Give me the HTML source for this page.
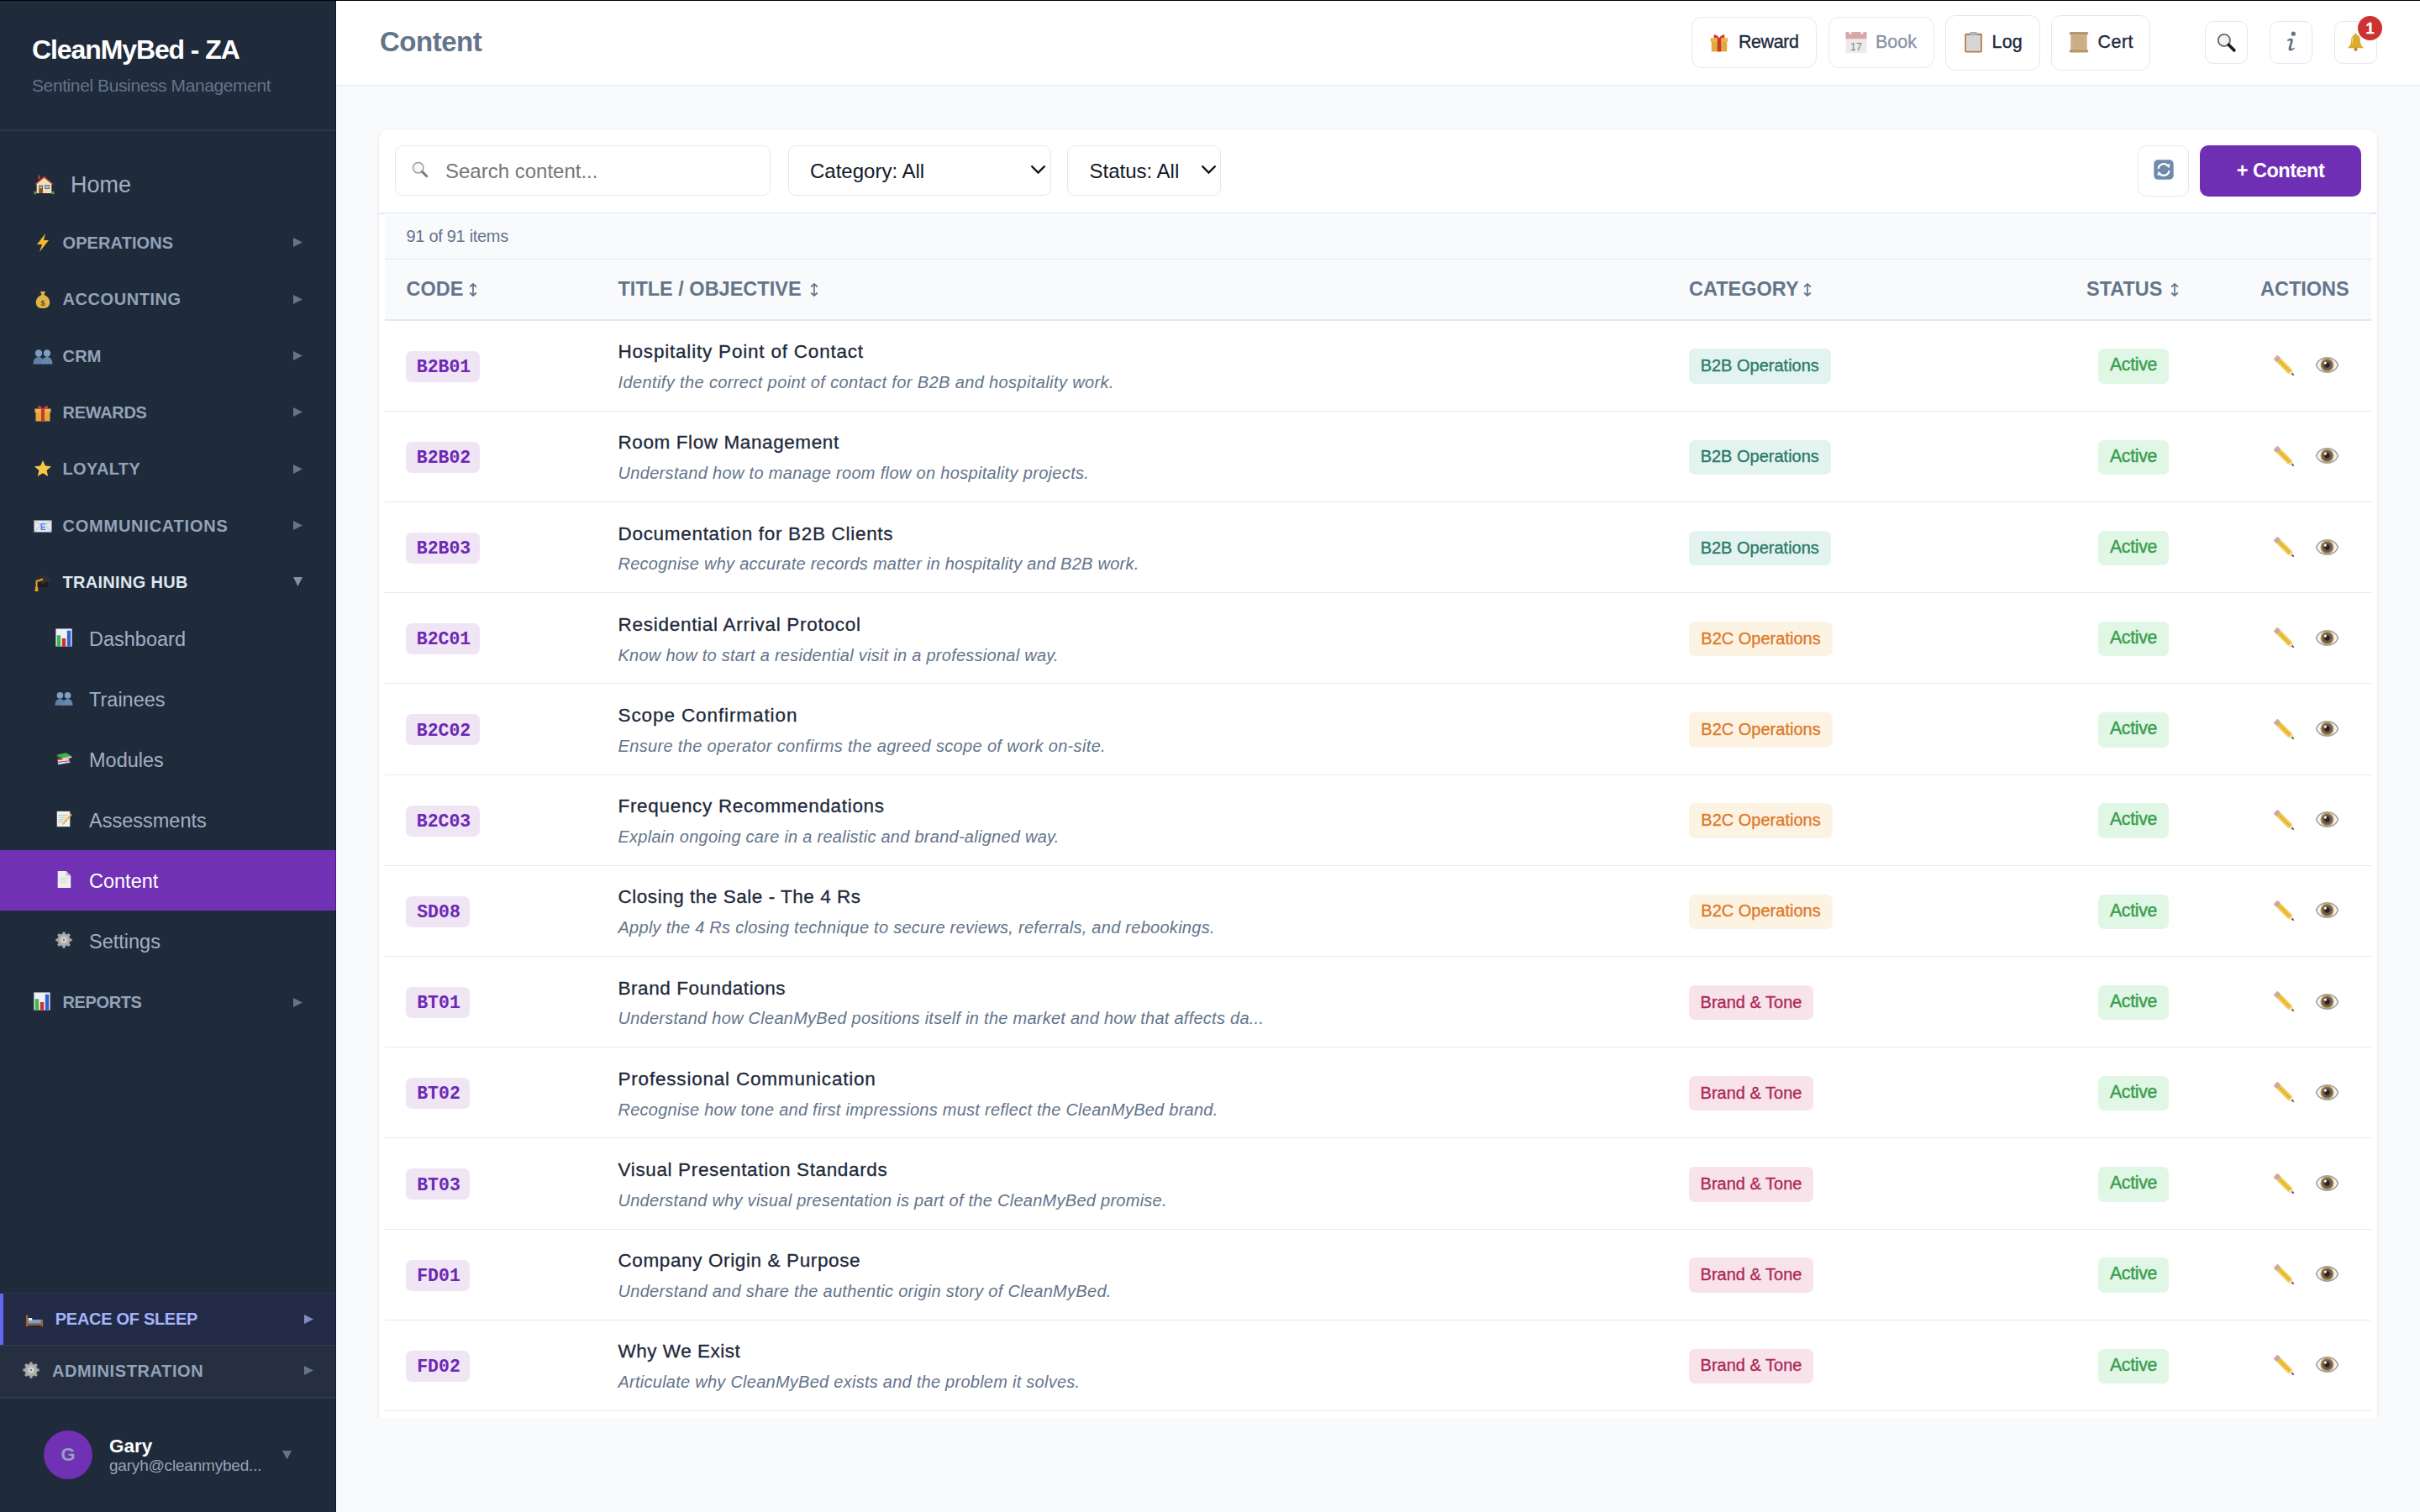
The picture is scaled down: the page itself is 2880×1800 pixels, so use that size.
<!DOCTYPE html>
<html><head><meta charset="utf-8"><title>Content</title>
<style>
html,body{margin:0;padding:0;width:2880px;height:1800px;overflow:hidden;background:#f8fafc}
@media (max-width:2000px){html{zoom:0.5}}
.b{position:absolute;display:block}
.t{position:absolute;white-space:nowrap;font-family:'Liberation Sans', sans-serif}
#root{position:relative;width:2880px;height:1800px;overflow:hidden}
</style></head><body><div id="root">
<div class="b" style="left:0px;top:0px;width:400px;height:1800px;background:#1f2a3b"></div>
<div class="t" style="left:38px;top:27.2px;height:64px;line-height:64px;font-size:32px;color:#ffffff;font-weight:700;letter-spacing:-1.1px;">CleanMyBed - ZA</div>
<div class="t" style="left:38px;top:81.0px;height:42px;line-height:42px;font-size:21px;color:#64748b;font-weight:400;letter-spacing:-0.4px;">Sentinel Business Management</div>
<div class="b" style="left:0px;top:154px;width:400px;height:1.5px;background:#2c3749"></div>
<svg class="b" style="left:39.5px;top:207px" width="25" height="25" viewBox="0 0 24 24"><path d="M1.5 11.5 L12 2.5 L22.5 11.5 L21 12.5 L12 5 L3 12.5 Z" fill="#c0392b"/><path d="M3.5 11.5 L12 4.5 L20.5 11.5 V22 H3.5 Z" fill="#f3dfb8"/><rect x="6" y="13" width="4.5" height="9" fill="#8b4a2b"/><rect x="6.8" y="14" width="2.8" height="2.5" fill="#7cc3ee"/><rect x="13" y="13" width="5" height="4" fill="#7cc3ee" stroke="#6a4a3a" stroke-width=".6"/><rect x="5" y="1.5" width="2.5" height="4.5" fill="#b03a2e"/><circle cx="2" cy="21.5" r="1.8" fill="#5a9a3a"/><circle cx="22" cy="21.5" r="1.8" fill="#5a9a3a"/></svg>
<div class="t" style="left:84px;top:192.7px;height:54px;line-height:54px;font-size:27px;color:#a3b0c2;font-weight:400;">Home</div>
<svg class="b" style="left:38.5px;top:276.9px" width="24" height="24" viewBox="0 0 24 24"><path d="M15 1 L5 14 L11 14 L8 23 L19 9 L13 9 Z" fill="#f5b82e"/></svg>
<div class="t" style="left:74.5px;top:268.9px;height:40px;line-height:40px;font-size:20px;color:#94a3b8;font-weight:700;letter-spacing:0.1px;">OPERATIONS</div>
<svg class="b" style="left:349px;top:283.4px" width="11" height="11" viewBox="0 0 11 11"><path d="M0 0 L11 5.5 L0 11 Z" fill="#64748b"/></svg>
<svg class="b" style="left:38.5px;top:344.22999999999996px" width="24" height="24" viewBox="0 0 24 24"><path d="M9 3 L15 3 L13.5 7 C19 9 21 14 20 18 C19 22 16 23 12 23 C8 23 5 22 4 18 C3 14 5 9 10.5 7 Z" fill="#e0b448"/><text x="12" y="20" font-size="9" text-anchor="middle" fill="#5b4a1e" font-family="Liberation Sans" font-weight="bold">$</text></svg>
<div class="t" style="left:74.5px;top:336.2px;height:40px;line-height:40px;font-size:20px;color:#94a3b8;font-weight:700;letter-spacing:0.56px;">ACCOUNTING</div>
<svg class="b" style="left:349px;top:350.72999999999996px" width="11" height="11" viewBox="0 0 11 11"><path d="M0 0 L11 5.5 L0 11 Z" fill="#64748b"/></svg>
<svg class="b" style="left:38.5px;top:411.55999999999995px" width="24" height="24" viewBox="0 0 24 24"><circle cx="7" cy="8.5" r="4.2" fill="#7f9fc2"/><circle cx="17" cy="8.5" r="4.2" fill="#7f9fc2"/><path d="M0.5 21.5 C0.5 15 4 13 7 13 C10 13 13.5 15 13.5 21.5 Z" fill="#5f81a8"/><path d="M10.5 21.5 C10.5 15 14 13 17 13 C20 13 23.5 15 23.5 21.5 Z" fill="#6788ae"/></svg>
<div class="t" style="left:74.5px;top:403.6px;height:40px;line-height:40px;font-size:20px;color:#94a3b8;font-weight:700;letter-spacing:0.2px;">CRM</div>
<svg class="b" style="left:349px;top:418.05999999999995px" width="11" height="11" viewBox="0 0 11 11"><path d="M0 0 L11 5.5 L0 11 Z" fill="#64748b"/></svg>
<svg class="b" style="left:38.5px;top:478.89px" width="24" height="24" viewBox="0 0 24 24"><rect x="3.5" y="10" width="17" height="12.5" fill="#e0a93a"/><rect x="2.5" y="7.5" width="19" height="4.5" fill="#eab54a"/><rect x="10" y="7.5" width="4" height="15" fill="#cf3230"/><rect x="2.5" y="14" width="19" height="0" fill="#cf3230"/><path d="M12 7.5 C8 2 4.5 3.5 6.5 7.5 Z M12 7.5 C16 2 19.5 3.5 17.5 7.5 Z" fill="#d83a35"/></svg>
<div class="t" style="left:74.5px;top:470.9px;height:40px;line-height:40px;font-size:20px;color:#94a3b8;font-weight:700;letter-spacing:-0.3px;">REWARDS</div>
<svg class="b" style="left:349px;top:485.39px" width="11" height="11" viewBox="0 0 11 11"><path d="M0 0 L11 5.5 L0 11 Z" fill="#64748b"/></svg>
<svg class="b" style="left:38.5px;top:546.22px" width="24" height="24" viewBox="0 0 24 24"><path d="M12 2 L14.9 8.6 L22 9.3 L16.6 14 L18.2 21 L12 17.3 L5.8 21 L7.4 14 L2 9.3 L9.1 8.6 Z" fill="#f7c844"/></svg>
<div class="t" style="left:74.5px;top:538.2px;height:40px;line-height:40px;font-size:20px;color:#94a3b8;font-weight:700;letter-spacing:0.37px;">LOYALTY</div>
<svg class="b" style="left:349px;top:552.72px" width="11" height="11" viewBox="0 0 11 11"><path d="M0 0 L11 5.5 L0 11 Z" fill="#64748b"/></svg>
<svg class="b" style="left:38.5px;top:613.55px" width="24" height="24" viewBox="0 0 24 24"><rect x="1.5" y="5.5" width="21" height="14" rx="1" fill="#e6e8eb"/><path d="M1.5 5.5 L12 13 L22.5 5.5 M1.5 19.5 L9 12 M22.5 19.5 L15 12" fill="none" stroke="#b5bcc4" stroke-width="0.9"/><text x="12" y="16.5" font-size="10" text-anchor="middle" fill="#3b82f6" font-family="Liberation Sans" font-weight="bold">E</text></svg>
<div class="t" style="left:74.5px;top:605.5px;height:40px;line-height:40px;font-size:20px;color:#94a3b8;font-weight:700;letter-spacing:0.77px;">COMMUNICATIONS</div>
<svg class="b" style="left:349px;top:620.05px" width="11" height="11" viewBox="0 0 11 11"><path d="M0 0 L11 5.5 L0 11 Z" fill="#64748b"/></svg>
<svg class="b" style="left:38.5px;top:680.88px" width="24" height="24" viewBox="0 0 24 24"><path d="M13 3 L23.5 8.5 L12 14 L1 8.5 Z" fill="#303030"/><path d="M6.5 11 L6.5 16.5 C9 19 16 19 18 16.5 L18 11.5 L12 14.5 Z" fill="#1c1c1c"/><path d="M12 8.5 L4.5 11 L4.5 19" fill="none" stroke="#e9a326" stroke-width="2"/><path d="M3 18 H6 L6.5 23 H2.5 Z" fill="#e9a326"/></svg>
<div class="t" style="left:74.5px;top:672.9px;height:40px;line-height:40px;font-size:20px;color:#dfe6ee;font-weight:700;letter-spacing:0.3px;">TRAINING HUB</div>
<svg class="b" style="left:349px;top:687.38px" width="11" height="11" viewBox="0 0 11 11"><path d="M0 0 L11 0 L5.5 11 Z" fill="#8391a6"/></svg>
<svg class="b" style="left:65px;top:748.2px" width="22" height="22" viewBox="0 0 24 24"><rect x="1.5" y="0.5" width="21" height="23" fill="#eef1f5"/><rect x="3" y="9" width="4.8" height="14.5" fill="#3fb34f"/><rect x="9.6" y="13" width="4.8" height="10.5" fill="#d2302c"/><rect x="16.2" y="3" width="4.8" height="20.5" fill="#2f64d0"/></svg>
<div class="t" style="left:106px;top:737.7px;height:47px;line-height:47px;font-size:23.5px;color:#a3b0c2;font-weight:400;">Dashboard</div>
<svg class="b" style="left:65px;top:820.2px" width="22" height="22" viewBox="0 0 24 24"><circle cx="7" cy="8.5" r="4.2" fill="#7f9fc2"/><circle cx="17" cy="8.5" r="4.2" fill="#7f9fc2"/><path d="M0.5 21.5 C0.5 15 4 13 7 13 C10 13 13.5 15 13.5 21.5 Z" fill="#5f81a8"/><path d="M10.5 21.5 C10.5 15 14 13 17 13 C20 13 23.5 15 23.5 21.5 Z" fill="#6788ae"/></svg>
<div class="t" style="left:106px;top:809.7px;height:47px;line-height:47px;font-size:23.5px;color:#a3b0c2;font-weight:400;">Trainees</div>
<svg class="b" style="left:65px;top:892.2px" width="22" height="22" viewBox="0 0 24 24"><path d="M3 16 L19 13.5 L21 18 L5 20.5 Z" fill="#3558b8"/><path d="M4 17.5 L19 15 L20 17 L5 19.5 Z" fill="#e8e8e8"/><path d="M3 12.5 L18 11 L19.5 15.5 L4.5 17 Z" fill="#c8392e"/><path d="M4 14.2 L18.5 12.8 L19 14.5 L4.5 16 Z" fill="#f0f0f0"/><path d="M3 7 L15 4.5 L22 9 L10 11.8 Z" fill="#4caf50"/><path d="M3 7 L10 11.8 L10 14 L3 9.3 Z" fill="#3a8a3e"/><path d="M10 11.8 L22 9 L22 11 L10 14 Z" fill="#e9efe6"/></svg>
<div class="t" style="left:106px;top:881.7px;height:47px;line-height:47px;font-size:23.5px;color:#a3b0c2;font-weight:400;">Modules</div>
<svg class="b" style="left:65px;top:964.2px" width="22" height="22" viewBox="0 0 24 24"><rect x="3" y="2" width="17" height="20" fill="#f2f2f0"/><path d="M5 7 H17 M5 10 H15 M5 13 H14 M5 16 H11" stroke="#9aa" stroke-width="0.8"/><path d="M21 5 L11 17 L9.5 20 L12.5 18.5 L22.5 6.5 Z" fill="#f1b43a"/></svg>
<div class="t" style="left:106px;top:953.7px;height:47px;line-height:47px;font-size:23.5px;color:#a3b0c2;font-weight:400;">Assessments</div>
<div class="b" style="left:0px;top:1012px;width:400px;height:72px;background:#7031b4"></div>
<svg class="b" style="left:65px;top:1036.2px" width="22" height="22" viewBox="0 0 24 24"><path d="M4 1 H15 L21 7 V23 H4 Z" fill="#eeeeee"/><path d="M15 1 V7 H21 Z" fill="#bdbdbd"/><path d="M7 10 H17 M7 13 H17 M7 16 H15" stroke="#c8c8c8" stroke-width="0.8"/></svg>
<div class="t" style="left:106px;top:1025.7px;height:47px;line-height:47px;font-size:23.5px;color:#ffffff;font-weight:400;">Content</div>
<svg class="b" style="left:65px;top:1108.2px" width="22" height="22" viewBox="0 0 24 24"><circle cx="12" cy="12" r="8.5" fill="#9a9a9a"/><g stroke="#a8a8a8" stroke-width="3.4"><path d="M12 1.5 V22.5 M1.5 12 H22.5 M4.6 4.6 L19.4 19.4 M19.4 4.6 L4.6 19.4"/></g><circle cx="12" cy="12" r="6.5" fill="#b5b5b5"/><circle cx="12" cy="12" r="3" fill="#eeeeee"/><circle cx="12" cy="12" r="1.6" fill="#777"/></svg>
<div class="t" style="left:106px;top:1097.7px;height:47px;line-height:47px;font-size:23.5px;color:#a3b0c2;font-weight:400;">Settings</div>
<svg class="b" style="left:39px;top:1181px" width="22" height="22" viewBox="0 0 24 24"><rect x="1.5" y="0.5" width="21" height="23" fill="#eef1f5"/><rect x="3" y="9" width="4.8" height="14.5" fill="#3fb34f"/><rect x="9.6" y="13" width="4.8" height="10.5" fill="#d2302c"/><rect x="16.2" y="3" width="4.8" height="20.5" fill="#2f64d0"/></svg>
<div class="t" style="left:74.5px;top:1173.0px;height:40px;line-height:40px;font-size:20px;color:#94a3b8;font-weight:700;letter-spacing:-0.38px;">REPORTS</div>
<svg class="b" style="left:349px;top:1187.5px" width="11" height="11" viewBox="0 0 11 11"><path d="M0 0 L11 5.5 L0 11 Z" fill="#64748b"/></svg>
<div class="b" style="left:0px;top:1539px;width:400px;height:1.5px;background:#2f3a4c"></div>
<div class="b" style="left:0px;top:1540px;width:400px;height:61px;background:#232a45"></div>
<div class="b" style="left:0px;top:1540px;width:4px;height:61px;background:#6366f1"></div>
<svg class="b" style="left:30px;top:1559px" width="22" height="22" viewBox="0 0 24 24"><rect x="1" y="7" width="2.5" height="15" fill="#a0622d"/><rect x="20.5" y="13" width="2.5" height="9" fill="#a0622d"/><rect x="1" y="18" width="22" height="2.5" fill="#a0622d"/><rect x="3.5" y="13" width="17" height="5" fill="#7fa3c8"/><rect x="4" y="11" width="5" height="3" rx="1" fill="#eef1f4"/></svg>
<div class="t" style="left:65.8px;top:1550.1px;height:40px;line-height:40px;font-size:20px;color:#a5b4fc;font-weight:700;letter-spacing:-0.3px;">PEACE OF SLEEP</div>
<svg class="b" style="left:361.5px;top:1564.8px" width="11" height="11" viewBox="0 0 11 11"><path d="M0 0 L11 5.5 L0 11 Z" fill="#7f8bc4"/></svg>
<div class="b" style="left:0px;top:1601px;width:400px;height:1.5px;background:#2f3a4c"></div>
<div class="b" style="left:0px;top:1602px;width:400px;height:61px;background:#252f3f"></div>
<svg class="b" style="left:26px;top:1620px" width="22" height="22" viewBox="0 0 24 24"><circle cx="12" cy="12" r="8.5" fill="#9a9a9a"/><g stroke="#a8a8a8" stroke-width="3.4"><path d="M12 1.5 V22.5 M1.5 12 H22.5 M4.6 4.6 L19.4 19.4 M19.4 4.6 L4.6 19.4"/></g><circle cx="12" cy="12" r="6.5" fill="#b5b5b5"/><circle cx="12" cy="12" r="3" fill="#eeeeee"/><circle cx="12" cy="12" r="1.6" fill="#777"/></svg>
<div class="t" style="left:62px;top:1611.8px;height:40px;line-height:40px;font-size:20px;color:#94a3b8;font-weight:700;letter-spacing:0.6px;">ADMINISTRATION</div>
<svg class="b" style="left:361.5px;top:1626.3px" width="11" height="11" viewBox="0 0 11 11"><path d="M0 0 L11 5.5 L0 11 Z" fill="#64748b"/></svg>
<div class="b" style="left:0px;top:1663px;width:400px;height:1.5px;background:#2f3a4c"></div>
<div class="b" style="left:52px;top:1703px;width:58px;height:58px;border-radius:50%;background:#7031b4"></div>
<div class="t" style="left:52px;top:1709.6px;height:44px;line-height:44px;font-size:22px;color:#94a3b8;font-weight:700;width:58px;text-align:center;">G</div>
<div class="t" style="left:130px;top:1699.3px;height:45px;line-height:45px;font-size:22.5px;color:#ffffff;font-weight:700;">Gary</div>
<div class="t" style="left:130px;top:1726.0px;height:38px;line-height:38px;font-size:19px;color:#94a3b8;font-weight:400;letter-spacing:-0.2px;">garyh@cleanmybed...</div>
<svg class="b" style="left:336px;top:1727px" width="11" height="10.5" viewBox="0 0 11 10.5"><path d="M0 0 L11 0 L5.5 10.5 Z" fill="#64748b"/></svg>
<div class="b" style="left:399px;top:0px;width:1px;height:1800px;background:rgba(0,0,10,0.35)"></div>
<div class="b" style="left:400px;top:0px;width:2480px;height:101px;background:#ffffff"></div>
<div class="b" style="left:400px;top:101px;width:2480px;height:1px;background:#e2e8f0"></div>
<div class="b" style="left:0px;top:0px;width:2880px;height:1px;background:#000"></div>
<div class="t" style="left:452px;top:16.9px;height:66px;line-height:66px;font-size:33px;color:#64748b;font-weight:700;letter-spacing:-0.5px;">Content</div>
<div class="b" style="left:2013px;top:20px;width:149px;height:60.5px;border:1.5px solid #e2e8f0;border-radius:12px;box-sizing:border-box;background:#fff;"></div>
<div class="b" style="left:0;top:0;">
<svg class="b" style="left:2033px;top:37px" width="26" height="26" viewBox="0 0 24 24"><rect x="3.5" y="10" width="17" height="12.5" fill="#e0a93a"/><rect x="2.5" y="7.5" width="19" height="4.5" fill="#eab54a"/><rect x="10" y="7.5" width="4" height="15" fill="#cf3230"/><rect x="2.5" y="14" width="19" height="0" fill="#cf3230"/><path d="M12 7.5 C8 2 4.5 3.5 6.5 7.5 Z M12 7.5 C16 2 19.5 3.5 17.5 7.5 Z" fill="#d83a35"/></svg>
</div>
<div class="t" style="left:2069px;top:28.8px;height:43px;line-height:43px;font-size:21.5px;color:#1e293b;font-weight:400;letter-spacing:-0.45px;-webkit-text-stroke:0.35px #1e293b;">Reward</div>
<div class="b" style="left:2176px;top:20px;width:125.5px;height:60.5px;border:1.5px solid #e2e8f0;border-radius:12px;box-sizing:border-box;background:#fff;"></div>
<div class="b" style="left:0;top:0;">
<svg class="b" style="left:2196px;top:37px" width="26" height="26" viewBox="0 0 24 24"><rect x="0.5" y="1" width="23" height="23" fill="#ebebeb"/><rect x="0.5" y="1" width="23" height="7.5" fill="#d9a6aa"/><circle cx="5.5" cy="2" r="1.3" fill="#fff"/><circle cx="18.5" cy="2" r="1.3" fill="#fff"/><text x="12" y="21.5" font-size="11.5" text-anchor="middle" fill="#7d7d7d" font-family="Liberation Sans">17</text></svg>
</div>
<div class="t" style="left:2232px;top:28.8px;height:43px;line-height:43px;font-size:21.5px;color:#8b95a5;font-weight:400;letter-spacing:0px;-webkit-text-stroke:0.35px #8b95a5;">Book</div>
<div class="b" style="left:2315px;top:18px;width:113px;height:66px;border:1.5px solid #e2e8f0;border-radius:12px;box-sizing:border-box;background:#fff;"></div>
<div class="b" style="left:0;top:0;">
<svg class="b" style="left:2335px;top:37px" width="26" height="26" viewBox="0 0 24 24"><rect x="3" y="2.5" width="19" height="21" rx="1.5" fill="#b07d3f"/><rect x="4.6" y="4.5" width="15.8" height="17.5" fill="#d6d6d6"/><rect x="8.5" y="1" width="8" height="3.5" rx="1" fill="#a9b1ba"/></svg>
</div>
<div class="t" style="left:2370.5px;top:28.8px;height:43px;line-height:43px;font-size:21.5px;color:#1e293b;font-weight:400;letter-spacing:0.2px;-webkit-text-stroke:0.35px #1e293b;">Log</div>
<div class="b" style="left:2441px;top:18px;width:118px;height:66px;border:1.5px solid #e2e8f0;border-radius:12px;box-sizing:border-box;background:#fff;"></div>
<div class="b" style="left:0;top:0;">
<svg class="b" style="left:2461px;top:37px" width="26" height="26" viewBox="0 0 24 24"><rect x="3" y="2.5" width="18" height="19.5" fill="#cdb089"/><rect x="1.5" y="1" width="21" height="3" rx="1.5" fill="#b8966a"/><rect x="1.5" y="20.5" width="21" height="3" rx="1.5" fill="#b8966a"/><path d="M6 7 H18 M6 10 H18 M6 13 H18 M6 16 H16" stroke="#bfa079" stroke-width="0.7"/></svg>
</div>
<div class="t" style="left:2496.5px;top:28.8px;height:43px;line-height:43px;font-size:21.5px;color:#1e293b;font-weight:400;letter-spacing:0.45px;-webkit-text-stroke:0.35px #1e293b;">Cert</div>
<div class="b" style="left:2624px;top:25px;width:51px;height:51px;border:1.5px solid #e2e8f0;border-radius:10px;box-sizing:border-box;background:#fff;"></div>
<svg class="b" style="left:2637px;top:37.5px" width="25" height="25" viewBox="0 0 24 24"><circle cx="9.5" cy="9.5" r="6.8" fill="#f2f2f2" stroke="#6b6b6b" stroke-width="1.8"/><path d="M14.6 14.6 L21 21" stroke="#1a1a1a" stroke-width="3.4" stroke-linecap="round"/></svg>
<div class="b" style="left:2701px;top:25px;width:51px;height:51px;border:1.5px solid #e2e8f0;border-radius:10px;box-sizing:border-box;background:#fff;"></div>
<svg class="b" style="left:2716px;top:37px" width="22" height="26" viewBox="0 0 22 26"><circle cx="13.3" cy="3.2" r="2.6" fill="#64748b"/><path d="M6 10.5 C8 8.6 11.5 8.2 12.5 9.6 C13.3 10.8 12.6 13 11.8 15.5 C11 18 10.3 20.3 11.3 20.8 C12.2 21.2 13.5 20.3 14.4 19.6 L15 20.6 C13.5 22.4 10.6 24.4 8.6 23.3 C6.9 22.3 7.6 19.6 8.5 16.8 C9.3 14.4 10.2 12 9.4 11.4 C8.8 11 7.5 11.7 6.6 12.3 Z" fill="#64748b"/></svg>
<div class="b" style="left:2778px;top:25px;width:51px;height:51px;border:1.5px solid #e2e8f0;border-radius:10px;box-sizing:border-box;background:#fff;"></div>
<svg class="b" style="left:2791px;top:37.5px" width="25" height="25" viewBox="0 0 24 24"><path d="M12 3 C8.2 3 6.8 6.5 6.8 10 C6.8 14 5.5 16 2.5 18.5 L21.5 18.5 C18.5 16 17.2 14 17.2 10 C17.2 6.5 15.8 3 12 3 Z" fill="#d9ab2f"/><path d="M9 5.5 C8 7 8 10 8.2 13" stroke="#f3d66a" stroke-width="1.3" fill="none"/><circle cx="12" cy="20" r="2" fill="#b8861a"/><circle cx="12" cy="2.6" r="1.1" fill="#c99a22"/></svg>
<div class="b" style="left:2806px;top:19px;width:29px;height:29px;border-radius:50%;background:#cc3330"></div>
<div class="t" style="left:2806px;top:15.5px;height:36px;line-height:36px;font-size:18px;color:#ffffff;font-weight:700;width:29px;text-align:center;-webkit-text-stroke:0.4px #fff;">1</div>
<div class="b" style="left:400px;top:102px;width:2480px;height:1698px;background:#f8fafc"></div>
<div class="b" style="left:451px;top:154px;width:2378px;height:1560px;background:#fff;border-radius:12px;box-shadow:0 1px 4px rgba(15,23,42,.07),0 0 0 1px rgba(15,23,42,.02)"></div>
<div class="b" style="left:470px;top:173px;width:447px;height:60px;border:1.5px solid #e2e8f0;border-radius:9px;box-sizing:border-box;background:#fff"></div>
<svg class="b" style="left:489px;top:191px" width="22" height="22" viewBox="0 0 24 24"><circle cx="9.5" cy="9.5" r="6.8" fill="#f7f7f7" stroke="#9a9a9a" stroke-width="1.6"/><path d="M14.6 14.6 L20.5 20.5" stroke="#7a7a7a" stroke-width="3.2" stroke-linecap="round"/></svg>
<div class="t" style="left:530px;top:179.5px;height:48px;line-height:48px;font-size:24px;color:#767676;font-weight:400;">Search content...</div>
<div class="b" style="left:938px;top:173px;width:313px;height:60px;border:1.5px solid #e2e8f0;border-radius:9px;box-sizing:border-box;background:#fff"></div>
<div class="t" style="left:964px;top:179.5px;height:48px;line-height:48px;font-size:24px;color:#111827;font-weight:400;">Category: All</div>
<svg class="b" style="left:1226px;top:196px" width="19" height="12" viewBox="0 0 19 12"><path d="M1.5 1.5 L9.5 9.5 L17.5 1.5" fill="none" stroke="#111" stroke-width="2.4"/></svg>
<div class="b" style="left:1270px;top:173px;width:183px;height:60px;border:1.5px solid #e2e8f0;border-radius:9px;box-sizing:border-box;background:#fff"></div>
<div class="t" style="left:1296.5px;top:179.5px;height:48px;line-height:48px;font-size:24px;color:#111827;font-weight:400;">Status: All</div>
<svg class="b" style="left:1428.5px;top:196px" width="19" height="12" viewBox="0 0 19 12"><path d="M1.5 1.5 L9.5 9.5 L17.5 1.5" fill="none" stroke="#111" stroke-width="2.4"/></svg>
<div class="b" style="left:2544px;top:173px;width:61px;height:61px;border:1.5px solid #e2e8f0;border-radius:10px;box-sizing:border-box;background:#fff"></div>
<svg class="b" style="left:2561px;top:188px" width="28" height="28" viewBox="0 0 24 24"><rect x="2" y="2" width="20" height="20" rx="4" fill="#6f8bab"/><path d="M6.5 11 A5.5 5.5 0 0 1 16.5 8.5" fill="none" stroke="#fff" stroke-width="2"/><path d="M17.5 13 A5.5 5.5 0 0 1 7.5 15.5" fill="none" stroke="#fff" stroke-width="2"/><path d="M14 7 L18.5 6 L17.5 10.5 Z M10 17 L5.5 18 L6.5 13.5 Z" fill="#fff"/></svg>
<div class="b" style="left:2618px;top:173px;width:192px;height:61px;border-radius:10px;background:#6f2fb5"></div>
<div class="t" style="left:2618px;top:180.3px;height:47px;line-height:47px;font-size:23.5px;color:#ffffff;font-weight:700;width:192px;text-align:center;letter-spacing:-0.5px;">+ Content</div>
<div class="b" style="left:451px;top:253px;width:2377px;height:1.5px;background:#e2e8f0"></div>
<div class="b" style="left:458px;top:254px;width:2364px;height:127px;background:#f8fafc"></div>
<div class="t" style="left:483.5px;top:260.8px;height:40px;line-height:40px;font-size:20px;color:#64748b;font-weight:400;letter-spacing:-0.3px;">91 of 91 items</div>
<div class="b" style="left:458px;top:307.5px;width:2364px;height:1.5px;background:#e2e8f0"></div>
<div class="t" style="left:483.5px;top:321.0px;height:47px;line-height:47px;font-size:23.5px;color:#64748b;font-weight:700;letter-spacing:0px;">CODE</div>
<svg class="b" style="left:557.5px;top:336.5px" width="10" height="16" viewBox="0 0 10 16"><path d="M5 1 V15 M1.2 4.5 L5 1 L8.8 4.5 M1.2 11.5 L5 15 L8.8 11.5" fill="none" stroke="#64748b" stroke-width="1.7"/></svg>
<div class="t" style="left:735.5px;top:321.0px;height:47px;line-height:47px;font-size:23.5px;color:#64748b;font-weight:700;letter-spacing:0px;">TITLE / OBJECTIVE</div>
<svg class="b" style="left:964px;top:336.5px" width="10" height="16" viewBox="0 0 10 16"><path d="M5 1 V15 M1.2 4.5 L5 1 L8.8 4.5 M1.2 11.5 L5 15 L8.8 11.5" fill="none" stroke="#64748b" stroke-width="1.7"/></svg>
<div class="t" style="left:2010px;top:321.0px;height:47px;line-height:47px;font-size:23.5px;color:#64748b;font-weight:700;letter-spacing:0px;">CATEGORY</div>
<svg class="b" style="left:2146px;top:336.5px" width="10" height="16" viewBox="0 0 10 16"><path d="M5 1 V15 M1.2 4.5 L5 1 L8.8 4.5 M1.2 11.5 L5 15 L8.8 11.5" fill="none" stroke="#64748b" stroke-width="1.7"/></svg>
<div class="t" style="left:2483px;top:321.0px;height:47px;line-height:47px;font-size:23.5px;color:#64748b;font-weight:700;letter-spacing:0px;">STATUS</div>
<svg class="b" style="left:2583px;top:336.5px" width="10" height="16" viewBox="0 0 10 16"><path d="M5 1 V15 M1.2 4.5 L5 1 L8.8 4.5 M1.2 11.5 L5 15 L8.8 11.5" fill="none" stroke="#64748b" stroke-width="1.7"/></svg>
<div class="t" style="left:2690px;top:321.0px;height:47px;line-height:47px;font-size:23.5px;color:#64748b;font-weight:700;letter-spacing:0px;">ACTIONS</div>
<div class="b" style="left:458px;top:380px;width:2364px;height:1.5px;background:#e2e8f0"></div>
<div class="b" style="left:483px;top:417.6px;width:88px;height:37px;border-radius:7px;background:#f0e5f4"></div>
<div class="t" style="left:484px;top:415.8px;height:43px;line-height:43px;font-size:21.5px;color:#6d28b5;font-weight:700;width:88px;text-align:center;font-family:'Liberation Mono', monospace;">B2B01</div>
<div class="t" style="left:735.5px;top:396.1px;height:45px;line-height:45px;font-size:22.5px;color:#1e293b;font-weight:400;letter-spacing:0.796px;-webkit-text-stroke:0.3px #1e293b;">Hospitality Point of Contact</div>
<div class="t" style="left:735.5px;top:435.0px;height:40px;line-height:40px;font-size:20px;color:#64748b;font-weight:400;font-style:italic;letter-spacing:0.383px;">Identify the correct point of contact for B2B and hospitality work.</div>
<div class="b" style="left:2010px;top:415.3px;width:168.5px;height:41.5px;border-radius:7px;background:#e3f3f0"></div>
<div class="t" style="left:2010px;top:415.1px;height:40px;line-height:40px;font-size:20px;color:#2c7a66;font-weight:400;width:168.5px;text-align:center;-webkit-text-stroke:0.35px #2c7a66;">B2B Operations</div>
<div class="b" style="left:2497px;top:415.3px;width:84px;height:41.5px;border-radius:7px;background:#e0f7e5"></div>
<div class="t" style="left:2497px;top:413.4px;height:42px;line-height:42px;font-size:21.3px;color:#3a9d4f;font-weight:400;width:84px;text-align:center;letter-spacing:-0.3px;-webkit-text-stroke:0.45px #3a9d4f;">Active</div>
<svg class="b" style="left:2704px;top:420.8px" width="28" height="28" viewBox="0 0 24 24"><path d="M5.5 1.5 L1.5 5.5 L16.5 20.5 L20.5 16.5 Z" fill="#f2c94c"/><path d="M3.5 3.5 L18.5 18.5" stroke="#e0a92e" stroke-width="1.2"/><path d="M5.5 1.5 L1.5 5.5 L3 7 L7 3 Z" fill="#ef9aa8"/><path d="M3 7 L7 3 L8.4 4.4 L4.4 8.4 Z" fill="#9fb3c8"/><path d="M20.5 16.5 L16.5 20.5 L22.5 22.5 Z" fill="#f0d9b5"/><path d="M21.3 19.8 L22.5 22.5 L19.8 21.3 Z" fill="#333"/></svg>
<svg class="b" style="left:2754.5px;top:420.1px" width="29" height="29" viewBox="0 0 24 24"><path d="M1.2 12 C4.5 2.5 19.5 2.5 22.8 12 C19.5 21.5 4.5 21.5 1.2 12 Z" fill="#f4f4f4" stroke="#a0a0a0" stroke-width="1.3"/><circle cx="12" cy="12" r="6.6" fill="#b8954a"/><circle cx="12" cy="12" r="5.2" fill="#6b5a52"/><circle cx="12" cy="12" r="2.6" fill="#2a2220"/><circle cx="10.2" cy="10" r="1.3" fill="#fff"/></svg>
<div class="b" style="left:458px;top:489px;width:2364px;height:1px;background:#e2e8f0"></div>
<div class="b" style="left:483px;top:525.8px;width:88px;height:37px;border-radius:7px;background:#f0e5f4"></div>
<div class="t" style="left:484px;top:524.0px;height:43px;line-height:43px;font-size:21.5px;color:#6d28b5;font-weight:700;width:88px;text-align:center;font-family:'Liberation Mono', monospace;">B2B02</div>
<div class="t" style="left:735.5px;top:504.3px;height:45px;line-height:45px;font-size:22.5px;color:#1e293b;font-weight:400;letter-spacing:0.595px;-webkit-text-stroke:0.3px #1e293b;">Room Flow Management</div>
<div class="t" style="left:735.5px;top:543.2px;height:40px;line-height:40px;font-size:20px;color:#64748b;font-weight:400;font-style:italic;letter-spacing:0.328px;">Understand how to manage room flow on hospitality projects.</div>
<div class="b" style="left:2010px;top:523.5px;width:168.5px;height:41.5px;border-radius:7px;background:#e3f3f0"></div>
<div class="t" style="left:2010px;top:523.3px;height:40px;line-height:40px;font-size:20px;color:#2c7a66;font-weight:400;width:168.5px;text-align:center;-webkit-text-stroke:0.35px #2c7a66;">B2B Operations</div>
<div class="b" style="left:2497px;top:523.5px;width:84px;height:41.5px;border-radius:7px;background:#e0f7e5"></div>
<div class="t" style="left:2497px;top:521.6px;height:42px;line-height:42px;font-size:21.3px;color:#3a9d4f;font-weight:400;width:84px;text-align:center;letter-spacing:-0.3px;-webkit-text-stroke:0.45px #3a9d4f;">Active</div>
<svg class="b" style="left:2704px;top:529.0px" width="28" height="28" viewBox="0 0 24 24"><path d="M5.5 1.5 L1.5 5.5 L16.5 20.5 L20.5 16.5 Z" fill="#f2c94c"/><path d="M3.5 3.5 L18.5 18.5" stroke="#e0a92e" stroke-width="1.2"/><path d="M5.5 1.5 L1.5 5.5 L3 7 L7 3 Z" fill="#ef9aa8"/><path d="M3 7 L7 3 L8.4 4.4 L4.4 8.4 Z" fill="#9fb3c8"/><path d="M20.5 16.5 L16.5 20.5 L22.5 22.5 Z" fill="#f0d9b5"/><path d="M21.3 19.8 L22.5 22.5 L19.8 21.3 Z" fill="#333"/></svg>
<svg class="b" style="left:2754.5px;top:528.3px" width="29" height="29" viewBox="0 0 24 24"><path d="M1.2 12 C4.5 2.5 19.5 2.5 22.8 12 C19.5 21.5 4.5 21.5 1.2 12 Z" fill="#f4f4f4" stroke="#a0a0a0" stroke-width="1.3"/><circle cx="12" cy="12" r="6.6" fill="#b8954a"/><circle cx="12" cy="12" r="5.2" fill="#6b5a52"/><circle cx="12" cy="12" r="2.6" fill="#2a2220"/><circle cx="10.2" cy="10" r="1.3" fill="#fff"/></svg>
<div class="b" style="left:458px;top:597px;width:2364px;height:1px;background:#e2e8f0"></div>
<div class="b" style="left:483px;top:634.0px;width:88px;height:37px;border-radius:7px;background:#f0e5f4"></div>
<div class="t" style="left:484px;top:632.2px;height:43px;line-height:43px;font-size:21.5px;color:#6d28b5;font-weight:700;width:88px;text-align:center;font-family:'Liberation Mono', monospace;">B2B03</div>
<div class="t" style="left:735.5px;top:612.5px;height:45px;line-height:45px;font-size:22.5px;color:#1e293b;font-weight:400;letter-spacing:0.693px;-webkit-text-stroke:0.3px #1e293b;">Documentation for B2B Clients</div>
<div class="t" style="left:735.5px;top:651.4px;height:40px;line-height:40px;font-size:20px;color:#64748b;font-weight:400;font-style:italic;letter-spacing:0.248px;">Recognise why accurate records matter in hospitality and B2B work.</div>
<div class="b" style="left:2010px;top:631.7px;width:168.5px;height:41.5px;border-radius:7px;background:#e3f3f0"></div>
<div class="t" style="left:2010px;top:631.5px;height:40px;line-height:40px;font-size:20px;color:#2c7a66;font-weight:400;width:168.5px;text-align:center;-webkit-text-stroke:0.35px #2c7a66;">B2B Operations</div>
<div class="b" style="left:2497px;top:631.7px;width:84px;height:41.5px;border-radius:7px;background:#e0f7e5"></div>
<div class="t" style="left:2497px;top:629.8px;height:42px;line-height:42px;font-size:21.3px;color:#3a9d4f;font-weight:400;width:84px;text-align:center;letter-spacing:-0.3px;-webkit-text-stroke:0.45px #3a9d4f;">Active</div>
<svg class="b" style="left:2704px;top:637.2px" width="28" height="28" viewBox="0 0 24 24"><path d="M5.5 1.5 L1.5 5.5 L16.5 20.5 L20.5 16.5 Z" fill="#f2c94c"/><path d="M3.5 3.5 L18.5 18.5" stroke="#e0a92e" stroke-width="1.2"/><path d="M5.5 1.5 L1.5 5.5 L3 7 L7 3 Z" fill="#ef9aa8"/><path d="M3 7 L7 3 L8.4 4.4 L4.4 8.4 Z" fill="#9fb3c8"/><path d="M20.5 16.5 L16.5 20.5 L22.5 22.5 Z" fill="#f0d9b5"/><path d="M21.3 19.8 L22.5 22.5 L19.8 21.3 Z" fill="#333"/></svg>
<svg class="b" style="left:2754.5px;top:636.5px" width="29" height="29" viewBox="0 0 24 24"><path d="M1.2 12 C4.5 2.5 19.5 2.5 22.8 12 C19.5 21.5 4.5 21.5 1.2 12 Z" fill="#f4f4f4" stroke="#a0a0a0" stroke-width="1.3"/><circle cx="12" cy="12" r="6.6" fill="#b8954a"/><circle cx="12" cy="12" r="5.2" fill="#6b5a52"/><circle cx="12" cy="12" r="2.6" fill="#2a2220"/><circle cx="10.2" cy="10" r="1.3" fill="#fff"/></svg>
<div class="b" style="left:458px;top:705px;width:2364px;height:1px;background:#e2e8f0"></div>
<div class="b" style="left:483px;top:742.2px;width:88px;height:37px;border-radius:7px;background:#f0e5f4"></div>
<div class="t" style="left:484px;top:740.4px;height:43px;line-height:43px;font-size:21.5px;color:#6d28b5;font-weight:700;width:88px;text-align:center;font-family:'Liberation Mono', monospace;">B2C01</div>
<div class="t" style="left:735.5px;top:720.7px;height:45px;line-height:45px;font-size:22.5px;color:#1e293b;font-weight:400;letter-spacing:0.726px;-webkit-text-stroke:0.3px #1e293b;">Residential Arrival Protocol</div>
<div class="t" style="left:735.5px;top:759.6px;height:40px;line-height:40px;font-size:20px;color:#64748b;font-weight:400;font-style:italic;letter-spacing:0.261px;">Know how to start a residential visit in a professional way.</div>
<div class="b" style="left:2010px;top:739.9px;width:171px;height:41.5px;border-radius:7px;background:#fdf3e3"></div>
<div class="t" style="left:2010px;top:739.7px;height:40px;line-height:40px;font-size:20px;color:#dd7a2b;font-weight:400;width:171px;text-align:center;-webkit-text-stroke:0.35px #dd7a2b;">B2C Operations</div>
<div class="b" style="left:2497px;top:739.9px;width:84px;height:41.5px;border-radius:7px;background:#e0f7e5"></div>
<div class="t" style="left:2497px;top:738.0px;height:42px;line-height:42px;font-size:21.3px;color:#3a9d4f;font-weight:400;width:84px;text-align:center;letter-spacing:-0.3px;-webkit-text-stroke:0.45px #3a9d4f;">Active</div>
<svg class="b" style="left:2704px;top:745.4000000000001px" width="28" height="28" viewBox="0 0 24 24"><path d="M5.5 1.5 L1.5 5.5 L16.5 20.5 L20.5 16.5 Z" fill="#f2c94c"/><path d="M3.5 3.5 L18.5 18.5" stroke="#e0a92e" stroke-width="1.2"/><path d="M5.5 1.5 L1.5 5.5 L3 7 L7 3 Z" fill="#ef9aa8"/><path d="M3 7 L7 3 L8.4 4.4 L4.4 8.4 Z" fill="#9fb3c8"/><path d="M20.5 16.5 L16.5 20.5 L22.5 22.5 Z" fill="#f0d9b5"/><path d="M21.3 19.8 L22.5 22.5 L19.8 21.3 Z" fill="#333"/></svg>
<svg class="b" style="left:2754.5px;top:744.7px" width="29" height="29" viewBox="0 0 24 24"><path d="M1.2 12 C4.5 2.5 19.5 2.5 22.8 12 C19.5 21.5 4.5 21.5 1.2 12 Z" fill="#f4f4f4" stroke="#a0a0a0" stroke-width="1.3"/><circle cx="12" cy="12" r="6.6" fill="#b8954a"/><circle cx="12" cy="12" r="5.2" fill="#6b5a52"/><circle cx="12" cy="12" r="2.6" fill="#2a2220"/><circle cx="10.2" cy="10" r="1.3" fill="#fff"/></svg>
<div class="b" style="left:458px;top:813px;width:2364px;height:1px;background:#e2e8f0"></div>
<div class="b" style="left:483px;top:850.4px;width:88px;height:37px;border-radius:7px;background:#f0e5f4"></div>
<div class="t" style="left:484px;top:848.6px;height:43px;line-height:43px;font-size:21.5px;color:#6d28b5;font-weight:700;width:88px;text-align:center;font-family:'Liberation Mono', monospace;">B2C02</div>
<div class="t" style="left:735.5px;top:828.9px;height:45px;line-height:45px;font-size:22.5px;color:#1e293b;font-weight:400;letter-spacing:0.9px;-webkit-text-stroke:0.3px #1e293b;">Scope Confirmation</div>
<div class="t" style="left:735.5px;top:867.8px;height:40px;line-height:40px;font-size:20px;color:#64748b;font-weight:400;font-style:italic;letter-spacing:0.344px;">Ensure the operator confirms the agreed scope of work on-site.</div>
<div class="b" style="left:2010px;top:848.1px;width:171px;height:41.5px;border-radius:7px;background:#fdf3e3"></div>
<div class="t" style="left:2010px;top:847.9px;height:40px;line-height:40px;font-size:20px;color:#dd7a2b;font-weight:400;width:171px;text-align:center;-webkit-text-stroke:0.35px #dd7a2b;">B2C Operations</div>
<div class="b" style="left:2497px;top:848.1px;width:84px;height:41.5px;border-radius:7px;background:#e0f7e5"></div>
<div class="t" style="left:2497px;top:846.2px;height:42px;line-height:42px;font-size:21.3px;color:#3a9d4f;font-weight:400;width:84px;text-align:center;letter-spacing:-0.3px;-webkit-text-stroke:0.45px #3a9d4f;">Active</div>
<svg class="b" style="left:2704px;top:853.6px" width="28" height="28" viewBox="0 0 24 24"><path d="M5.5 1.5 L1.5 5.5 L16.5 20.5 L20.5 16.5 Z" fill="#f2c94c"/><path d="M3.5 3.5 L18.5 18.5" stroke="#e0a92e" stroke-width="1.2"/><path d="M5.5 1.5 L1.5 5.5 L3 7 L7 3 Z" fill="#ef9aa8"/><path d="M3 7 L7 3 L8.4 4.4 L4.4 8.4 Z" fill="#9fb3c8"/><path d="M20.5 16.5 L16.5 20.5 L22.5 22.5 Z" fill="#f0d9b5"/><path d="M21.3 19.8 L22.5 22.5 L19.8 21.3 Z" fill="#333"/></svg>
<svg class="b" style="left:2754.5px;top:852.9px" width="29" height="29" viewBox="0 0 24 24"><path d="M1.2 12 C4.5 2.5 19.5 2.5 22.8 12 C19.5 21.5 4.5 21.5 1.2 12 Z" fill="#f4f4f4" stroke="#a0a0a0" stroke-width="1.3"/><circle cx="12" cy="12" r="6.6" fill="#b8954a"/><circle cx="12" cy="12" r="5.2" fill="#6b5a52"/><circle cx="12" cy="12" r="2.6" fill="#2a2220"/><circle cx="10.2" cy="10" r="1.3" fill="#fff"/></svg>
<div class="b" style="left:458px;top:922px;width:2364px;height:1px;background:#e2e8f0"></div>
<div class="b" style="left:483px;top:958.6px;width:88px;height:37px;border-radius:7px;background:#f0e5f4"></div>
<div class="t" style="left:484px;top:956.8px;height:43px;line-height:43px;font-size:21.5px;color:#6d28b5;font-weight:700;width:88px;text-align:center;font-family:'Liberation Mono', monospace;">B2C03</div>
<div class="t" style="left:735.5px;top:937.1px;height:45px;line-height:45px;font-size:22.5px;color:#1e293b;font-weight:400;letter-spacing:0.683px;-webkit-text-stroke:0.3px #1e293b;">Frequency Recommendations</div>
<div class="t" style="left:735.5px;top:976.0px;height:40px;line-height:40px;font-size:20px;color:#64748b;font-weight:400;font-style:italic;letter-spacing:0.263px;">Explain ongoing care in a realistic and brand-aligned way.</div>
<div class="b" style="left:2010px;top:956.3px;width:171px;height:41.5px;border-radius:7px;background:#fdf3e3"></div>
<div class="t" style="left:2010px;top:956.1px;height:40px;line-height:40px;font-size:20px;color:#dd7a2b;font-weight:400;width:171px;text-align:center;-webkit-text-stroke:0.35px #dd7a2b;">B2C Operations</div>
<div class="b" style="left:2497px;top:956.3px;width:84px;height:41.5px;border-radius:7px;background:#e0f7e5"></div>
<div class="t" style="left:2497px;top:954.4px;height:42px;line-height:42px;font-size:21.3px;color:#3a9d4f;font-weight:400;width:84px;text-align:center;letter-spacing:-0.3px;-webkit-text-stroke:0.45px #3a9d4f;">Active</div>
<svg class="b" style="left:2704px;top:961.8000000000001px" width="28" height="28" viewBox="0 0 24 24"><path d="M5.5 1.5 L1.5 5.5 L16.5 20.5 L20.5 16.5 Z" fill="#f2c94c"/><path d="M3.5 3.5 L18.5 18.5" stroke="#e0a92e" stroke-width="1.2"/><path d="M5.5 1.5 L1.5 5.5 L3 7 L7 3 Z" fill="#ef9aa8"/><path d="M3 7 L7 3 L8.4 4.4 L4.4 8.4 Z" fill="#9fb3c8"/><path d="M20.5 16.5 L16.5 20.5 L22.5 22.5 Z" fill="#f0d9b5"/><path d="M21.3 19.8 L22.5 22.5 L19.8 21.3 Z" fill="#333"/></svg>
<svg class="b" style="left:2754.5px;top:961.1px" width="29" height="29" viewBox="0 0 24 24"><path d="M1.2 12 C4.5 2.5 19.5 2.5 22.8 12 C19.5 21.5 4.5 21.5 1.2 12 Z" fill="#f4f4f4" stroke="#a0a0a0" stroke-width="1.3"/><circle cx="12" cy="12" r="6.6" fill="#b8954a"/><circle cx="12" cy="12" r="5.2" fill="#6b5a52"/><circle cx="12" cy="12" r="2.6" fill="#2a2220"/><circle cx="10.2" cy="10" r="1.3" fill="#fff"/></svg>
<div class="b" style="left:458px;top:1030px;width:2364px;height:1px;background:#e2e8f0"></div>
<div class="b" style="left:483px;top:1066.8px;width:76px;height:37px;border-radius:7px;background:#f0e5f4"></div>
<div class="t" style="left:484px;top:1065.0px;height:43px;line-height:43px;font-size:21.5px;color:#6d28b5;font-weight:700;width:76px;text-align:center;font-family:'Liberation Mono', monospace;">SD08</div>
<div class="t" style="left:735.5px;top:1045.3px;height:45px;line-height:45px;font-size:22.5px;color:#1e293b;font-weight:400;letter-spacing:0.531px;-webkit-text-stroke:0.3px #1e293b;">Closing the Sale - The 4 Rs</div>
<div class="t" style="left:735.5px;top:1084.2px;height:40px;line-height:40px;font-size:20px;color:#64748b;font-weight:400;font-style:italic;letter-spacing:0.269px;">Apply the 4 Rs closing technique to secure reviews, referrals, and rebookings.</div>
<div class="b" style="left:2010px;top:1064.5px;width:171px;height:41.5px;border-radius:7px;background:#fdf3e3"></div>
<div class="t" style="left:2010px;top:1064.3px;height:40px;line-height:40px;font-size:20px;color:#dd7a2b;font-weight:400;width:171px;text-align:center;-webkit-text-stroke:0.35px #dd7a2b;">B2C Operations</div>
<div class="b" style="left:2497px;top:1064.5px;width:84px;height:41.5px;border-radius:7px;background:#e0f7e5"></div>
<div class="t" style="left:2497px;top:1062.6px;height:42px;line-height:42px;font-size:21.3px;color:#3a9d4f;font-weight:400;width:84px;text-align:center;letter-spacing:-0.3px;-webkit-text-stroke:0.45px #3a9d4f;">Active</div>
<svg class="b" style="left:2704px;top:1070.0px" width="28" height="28" viewBox="0 0 24 24"><path d="M5.5 1.5 L1.5 5.5 L16.5 20.5 L20.5 16.5 Z" fill="#f2c94c"/><path d="M3.5 3.5 L18.5 18.5" stroke="#e0a92e" stroke-width="1.2"/><path d="M5.5 1.5 L1.5 5.5 L3 7 L7 3 Z" fill="#ef9aa8"/><path d="M3 7 L7 3 L8.4 4.4 L4.4 8.4 Z" fill="#9fb3c8"/><path d="M20.5 16.5 L16.5 20.5 L22.5 22.5 Z" fill="#f0d9b5"/><path d="M21.3 19.8 L22.5 22.5 L19.8 21.3 Z" fill="#333"/></svg>
<svg class="b" style="left:2754.5px;top:1069.3px" width="29" height="29" viewBox="0 0 24 24"><path d="M1.2 12 C4.5 2.5 19.5 2.5 22.8 12 C19.5 21.5 4.5 21.5 1.2 12 Z" fill="#f4f4f4" stroke="#a0a0a0" stroke-width="1.3"/><circle cx="12" cy="12" r="6.6" fill="#b8954a"/><circle cx="12" cy="12" r="5.2" fill="#6b5a52"/><circle cx="12" cy="12" r="2.6" fill="#2a2220"/><circle cx="10.2" cy="10" r="1.3" fill="#fff"/></svg>
<div class="b" style="left:458px;top:1138px;width:2364px;height:1px;background:#e2e8f0"></div>
<div class="b" style="left:483px;top:1175.0px;width:76px;height:37px;border-radius:7px;background:#f0e5f4"></div>
<div class="t" style="left:484px;top:1173.2px;height:43px;line-height:43px;font-size:21.5px;color:#6d28b5;font-weight:700;width:76px;text-align:center;font-family:'Liberation Mono', monospace;">BT01</div>
<div class="t" style="left:735.5px;top:1153.5px;height:45px;line-height:45px;font-size:22.5px;color:#1e293b;font-weight:400;letter-spacing:0.562px;-webkit-text-stroke:0.3px #1e293b;">Brand Foundations</div>
<div class="t" style="left:735.5px;top:1192.4px;height:40px;line-height:40px;font-size:20px;color:#64748b;font-weight:400;font-style:italic;letter-spacing:0.261px;">Understand how CleanMyBed positions itself in the market and how that affects da...</div>
<div class="b" style="left:2010px;top:1172.7px;width:148px;height:41.5px;border-radius:7px;background:#f8e3eb"></div>
<div class="t" style="left:2010px;top:1172.5px;height:40px;line-height:40px;font-size:20px;color:#ad2858;font-weight:400;width:148px;text-align:center;-webkit-text-stroke:0.35px #ad2858;">Brand &amp; Tone</div>
<div class="b" style="left:2497px;top:1172.7px;width:84px;height:41.5px;border-radius:7px;background:#e0f7e5"></div>
<div class="t" style="left:2497px;top:1170.8px;height:42px;line-height:42px;font-size:21.3px;color:#3a9d4f;font-weight:400;width:84px;text-align:center;letter-spacing:-0.3px;-webkit-text-stroke:0.45px #3a9d4f;">Active</div>
<svg class="b" style="left:2704px;top:1178.2px" width="28" height="28" viewBox="0 0 24 24"><path d="M5.5 1.5 L1.5 5.5 L16.5 20.5 L20.5 16.5 Z" fill="#f2c94c"/><path d="M3.5 3.5 L18.5 18.5" stroke="#e0a92e" stroke-width="1.2"/><path d="M5.5 1.5 L1.5 5.5 L3 7 L7 3 Z" fill="#ef9aa8"/><path d="M3 7 L7 3 L8.4 4.4 L4.4 8.4 Z" fill="#9fb3c8"/><path d="M20.5 16.5 L16.5 20.5 L22.5 22.5 Z" fill="#f0d9b5"/><path d="M21.3 19.8 L22.5 22.5 L19.8 21.3 Z" fill="#333"/></svg>
<svg class="b" style="left:2754.5px;top:1177.5px" width="29" height="29" viewBox="0 0 24 24"><path d="M1.2 12 C4.5 2.5 19.5 2.5 22.8 12 C19.5 21.5 4.5 21.5 1.2 12 Z" fill="#f4f4f4" stroke="#a0a0a0" stroke-width="1.3"/><circle cx="12" cy="12" r="6.6" fill="#b8954a"/><circle cx="12" cy="12" r="5.2" fill="#6b5a52"/><circle cx="12" cy="12" r="2.6" fill="#2a2220"/><circle cx="10.2" cy="10" r="1.3" fill="#fff"/></svg>
<div class="b" style="left:458px;top:1246px;width:2364px;height:1px;background:#e2e8f0"></div>
<div class="b" style="left:483px;top:1283.2px;width:76px;height:37px;border-radius:7px;background:#f0e5f4"></div>
<div class="t" style="left:484px;top:1281.4px;height:43px;line-height:43px;font-size:21.5px;color:#6d28b5;font-weight:700;width:76px;text-align:center;font-family:'Liberation Mono', monospace;">BT02</div>
<div class="t" style="left:735.5px;top:1261.7px;height:45px;line-height:45px;font-size:22.5px;color:#1e293b;font-weight:400;letter-spacing:0.8px;-webkit-text-stroke:0.3px #1e293b;">Professional Communication</div>
<div class="t" style="left:735.5px;top:1300.6px;height:40px;line-height:40px;font-size:20px;color:#64748b;font-weight:400;font-style:italic;letter-spacing:0.257px;">Recognise how tone and first impressions must reflect the CleanMyBed brand.</div>
<div class="b" style="left:2010px;top:1280.9px;width:148px;height:41.5px;border-radius:7px;background:#f8e3eb"></div>
<div class="t" style="left:2010px;top:1280.7px;height:40px;line-height:40px;font-size:20px;color:#ad2858;font-weight:400;width:148px;text-align:center;-webkit-text-stroke:0.35px #ad2858;">Brand &amp; Tone</div>
<div class="b" style="left:2497px;top:1280.9px;width:84px;height:41.5px;border-radius:7px;background:#e0f7e5"></div>
<div class="t" style="left:2497px;top:1279.0px;height:42px;line-height:42px;font-size:21.3px;color:#3a9d4f;font-weight:400;width:84px;text-align:center;letter-spacing:-0.3px;-webkit-text-stroke:0.45px #3a9d4f;">Active</div>
<svg class="b" style="left:2704px;top:1286.3999999999999px" width="28" height="28" viewBox="0 0 24 24"><path d="M5.5 1.5 L1.5 5.5 L16.5 20.5 L20.5 16.5 Z" fill="#f2c94c"/><path d="M3.5 3.5 L18.5 18.5" stroke="#e0a92e" stroke-width="1.2"/><path d="M5.5 1.5 L1.5 5.5 L3 7 L7 3 Z" fill="#ef9aa8"/><path d="M3 7 L7 3 L8.4 4.4 L4.4 8.4 Z" fill="#9fb3c8"/><path d="M20.5 16.5 L16.5 20.5 L22.5 22.5 Z" fill="#f0d9b5"/><path d="M21.3 19.8 L22.5 22.5 L19.8 21.3 Z" fill="#333"/></svg>
<svg class="b" style="left:2754.5px;top:1285.6999999999998px" width="29" height="29" viewBox="0 0 24 24"><path d="M1.2 12 C4.5 2.5 19.5 2.5 22.8 12 C19.5 21.5 4.5 21.5 1.2 12 Z" fill="#f4f4f4" stroke="#a0a0a0" stroke-width="1.3"/><circle cx="12" cy="12" r="6.6" fill="#b8954a"/><circle cx="12" cy="12" r="5.2" fill="#6b5a52"/><circle cx="12" cy="12" r="2.6" fill="#2a2220"/><circle cx="10.2" cy="10" r="1.3" fill="#fff"/></svg>
<div class="b" style="left:458px;top:1354px;width:2364px;height:1px;background:#e2e8f0"></div>
<div class="b" style="left:483px;top:1391.4px;width:76px;height:37px;border-radius:7px;background:#f0e5f4"></div>
<div class="t" style="left:484px;top:1389.6px;height:43px;line-height:43px;font-size:21.5px;color:#6d28b5;font-weight:700;width:76px;text-align:center;font-family:'Liberation Mono', monospace;">BT03</div>
<div class="t" style="left:735.5px;top:1369.9px;height:45px;line-height:45px;font-size:22.5px;color:#1e293b;font-weight:400;letter-spacing:0.639px;-webkit-text-stroke:0.3px #1e293b;">Visual Presentation Standards</div>
<div class="t" style="left:735.5px;top:1408.8px;height:40px;line-height:40px;font-size:20px;color:#64748b;font-weight:400;font-style:italic;letter-spacing:0.269px;">Understand why visual presentation is part of the CleanMyBed promise.</div>
<div class="b" style="left:2010px;top:1389.1px;width:148px;height:41.5px;border-radius:7px;background:#f8e3eb"></div>
<div class="t" style="left:2010px;top:1388.9px;height:40px;line-height:40px;font-size:20px;color:#ad2858;font-weight:400;width:148px;text-align:center;-webkit-text-stroke:0.35px #ad2858;">Brand &amp; Tone</div>
<div class="b" style="left:2497px;top:1389.1px;width:84px;height:41.5px;border-radius:7px;background:#e0f7e5"></div>
<div class="t" style="left:2497px;top:1387.2px;height:42px;line-height:42px;font-size:21.3px;color:#3a9d4f;font-weight:400;width:84px;text-align:center;letter-spacing:-0.3px;-webkit-text-stroke:0.45px #3a9d4f;">Active</div>
<svg class="b" style="left:2704px;top:1394.6000000000001px" width="28" height="28" viewBox="0 0 24 24"><path d="M5.5 1.5 L1.5 5.5 L16.5 20.5 L20.5 16.5 Z" fill="#f2c94c"/><path d="M3.5 3.5 L18.5 18.5" stroke="#e0a92e" stroke-width="1.2"/><path d="M5.5 1.5 L1.5 5.5 L3 7 L7 3 Z" fill="#ef9aa8"/><path d="M3 7 L7 3 L8.4 4.4 L4.4 8.4 Z" fill="#9fb3c8"/><path d="M20.5 16.5 L16.5 20.5 L22.5 22.5 Z" fill="#f0d9b5"/><path d="M21.3 19.8 L22.5 22.5 L19.8 21.3 Z" fill="#333"/></svg>
<svg class="b" style="left:2754.5px;top:1393.9px" width="29" height="29" viewBox="0 0 24 24"><path d="M1.2 12 C4.5 2.5 19.5 2.5 22.8 12 C19.5 21.5 4.5 21.5 1.2 12 Z" fill="#f4f4f4" stroke="#a0a0a0" stroke-width="1.3"/><circle cx="12" cy="12" r="6.6" fill="#b8954a"/><circle cx="12" cy="12" r="5.2" fill="#6b5a52"/><circle cx="12" cy="12" r="2.6" fill="#2a2220"/><circle cx="10.2" cy="10" r="1.3" fill="#fff"/></svg>
<div class="b" style="left:458px;top:1463px;width:2364px;height:1px;background:#e2e8f0"></div>
<div class="b" style="left:483px;top:1499.6px;width:76px;height:37px;border-radius:7px;background:#f0e5f4"></div>
<div class="t" style="left:484px;top:1497.8px;height:43px;line-height:43px;font-size:21.5px;color:#6d28b5;font-weight:700;width:76px;text-align:center;font-family:'Liberation Mono', monospace;">FD01</div>
<div class="t" style="left:735.5px;top:1478.1px;height:45px;line-height:45px;font-size:22.5px;color:#1e293b;font-weight:400;letter-spacing:0.617px;-webkit-text-stroke:0.3px #1e293b;">Company Origin &amp; Purpose</div>
<div class="t" style="left:735.5px;top:1517.0px;height:40px;line-height:40px;font-size:20px;color:#64748b;font-weight:400;font-style:italic;letter-spacing:0.289px;">Understand and share the authentic origin story of CleanMyBed.</div>
<div class="b" style="left:2010px;top:1497.3px;width:148px;height:41.5px;border-radius:7px;background:#f8e3eb"></div>
<div class="t" style="left:2010px;top:1497.1px;height:40px;line-height:40px;font-size:20px;color:#ad2858;font-weight:400;width:148px;text-align:center;-webkit-text-stroke:0.35px #ad2858;">Brand &amp; Tone</div>
<div class="b" style="left:2497px;top:1497.3px;width:84px;height:41.5px;border-radius:7px;background:#e0f7e5"></div>
<div class="t" style="left:2497px;top:1495.4px;height:42px;line-height:42px;font-size:21.3px;color:#3a9d4f;font-weight:400;width:84px;text-align:center;letter-spacing:-0.3px;-webkit-text-stroke:0.45px #3a9d4f;">Active</div>
<svg class="b" style="left:2704px;top:1502.8px" width="28" height="28" viewBox="0 0 24 24"><path d="M5.5 1.5 L1.5 5.5 L16.5 20.5 L20.5 16.5 Z" fill="#f2c94c"/><path d="M3.5 3.5 L18.5 18.5" stroke="#e0a92e" stroke-width="1.2"/><path d="M5.5 1.5 L1.5 5.5 L3 7 L7 3 Z" fill="#ef9aa8"/><path d="M3 7 L7 3 L8.4 4.4 L4.4 8.4 Z" fill="#9fb3c8"/><path d="M20.5 16.5 L16.5 20.5 L22.5 22.5 Z" fill="#f0d9b5"/><path d="M21.3 19.8 L22.5 22.5 L19.8 21.3 Z" fill="#333"/></svg>
<svg class="b" style="left:2754.5px;top:1502.1px" width="29" height="29" viewBox="0 0 24 24"><path d="M1.2 12 C4.5 2.5 19.5 2.5 22.8 12 C19.5 21.5 4.5 21.5 1.2 12 Z" fill="#f4f4f4" stroke="#a0a0a0" stroke-width="1.3"/><circle cx="12" cy="12" r="6.6" fill="#b8954a"/><circle cx="12" cy="12" r="5.2" fill="#6b5a52"/><circle cx="12" cy="12" r="2.6" fill="#2a2220"/><circle cx="10.2" cy="10" r="1.3" fill="#fff"/></svg>
<div class="b" style="left:458px;top:1571px;width:2364px;height:1px;background:#e2e8f0"></div>
<div class="b" style="left:483px;top:1607.8px;width:76px;height:37px;border-radius:7px;background:#f0e5f4"></div>
<div class="t" style="left:484px;top:1606.0px;height:43px;line-height:43px;font-size:21.5px;color:#6d28b5;font-weight:700;width:76px;text-align:center;font-family:'Liberation Mono', monospace;">FD02</div>
<div class="t" style="left:735.5px;top:1586.3px;height:45px;line-height:45px;font-size:22.5px;color:#1e293b;font-weight:400;letter-spacing:0.509px;-webkit-text-stroke:0.3px #1e293b;">Why We Exist</div>
<div class="t" style="left:735.5px;top:1625.2px;height:40px;line-height:40px;font-size:20px;color:#64748b;font-weight:400;font-style:italic;letter-spacing:0.257px;">Articulate why CleanMyBed exists and the problem it solves.</div>
<div class="b" style="left:2010px;top:1605.5px;width:148px;height:41.5px;border-radius:7px;background:#f8e3eb"></div>
<div class="t" style="left:2010px;top:1605.3px;height:40px;line-height:40px;font-size:20px;color:#ad2858;font-weight:400;width:148px;text-align:center;-webkit-text-stroke:0.35px #ad2858;">Brand &amp; Tone</div>
<div class="b" style="left:2497px;top:1605.5px;width:84px;height:41.5px;border-radius:7px;background:#e0f7e5"></div>
<div class="t" style="left:2497px;top:1603.6px;height:42px;line-height:42px;font-size:21.3px;color:#3a9d4f;font-weight:400;width:84px;text-align:center;letter-spacing:-0.3px;-webkit-text-stroke:0.45px #3a9d4f;">Active</div>
<svg class="b" style="left:2704px;top:1611.0px" width="28" height="28" viewBox="0 0 24 24"><path d="M5.5 1.5 L1.5 5.5 L16.5 20.5 L20.5 16.5 Z" fill="#f2c94c"/><path d="M3.5 3.5 L18.5 18.5" stroke="#e0a92e" stroke-width="1.2"/><path d="M5.5 1.5 L1.5 5.5 L3 7 L7 3 Z" fill="#ef9aa8"/><path d="M3 7 L7 3 L8.4 4.4 L4.4 8.4 Z" fill="#9fb3c8"/><path d="M20.5 16.5 L16.5 20.5 L22.5 22.5 Z" fill="#f0d9b5"/><path d="M21.3 19.8 L22.5 22.5 L19.8 21.3 Z" fill="#333"/></svg>
<svg class="b" style="left:2754.5px;top:1610.3px" width="29" height="29" viewBox="0 0 24 24"><path d="M1.2 12 C4.5 2.5 19.5 2.5 22.8 12 C19.5 21.5 4.5 21.5 1.2 12 Z" fill="#f4f4f4" stroke="#a0a0a0" stroke-width="1.3"/><circle cx="12" cy="12" r="6.6" fill="#b8954a"/><circle cx="12" cy="12" r="5.2" fill="#6b5a52"/><circle cx="12" cy="12" r="2.6" fill="#2a2220"/><circle cx="10.2" cy="10" r="1.3" fill="#fff"/></svg>
<div class="b" style="left:458px;top:1679px;width:2364px;height:1px;background:#e2e8f0"></div>
<div class="b" style="left:400px;top:1688px;width:2480px;height:112px;background:#f8fafc"></div>
</div></body></html>
